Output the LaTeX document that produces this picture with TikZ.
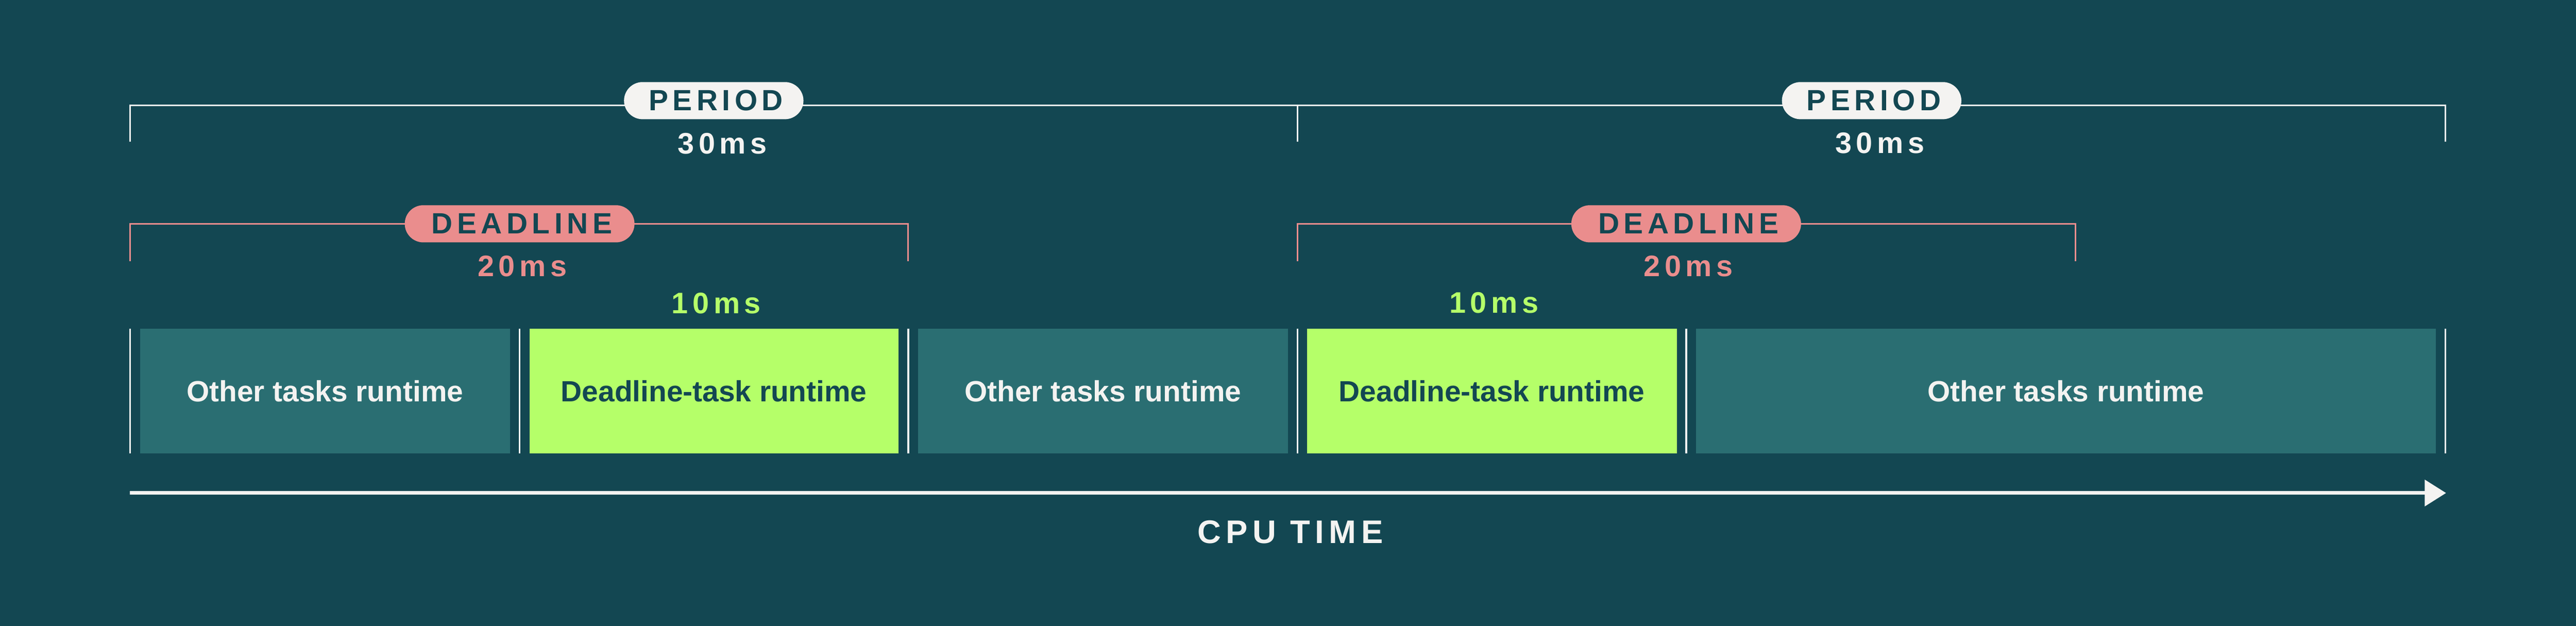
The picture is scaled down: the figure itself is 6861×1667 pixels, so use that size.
\documentclass[tikz,border=0pt]{standalone}
\usepackage{fontspec}
\setmainfont{Liberation Sans}
\newfontfamily\trackfont[LetterSpace=15]{Liberation Sans}
\usetikzlibrary{arrows.meta}
\definecolor{bg}{HTML}{134752}
\definecolor{tealbox}{HTML}{2A6E72}
\definecolor{limebox}{HTML}{B5FF69}
\definecolor{pinkc}{HTML}{EA8D8D}
\definecolor{offwhite}{HTML}{F4F3F1}
\newcommand{\trk}[1]{#1\kern-0.15em}
\begin{document}
\begin{tikzpicture}[x=0.1pt,y=-0.1pt,
  bracketline/.style={line width=0.4pt},
  markline/.style={draw=offwhite,line width=0.45pt},
  pill/.style={rectangle,rounded corners=4.95pt,minimum height=9.9pt,inner sep=0pt,
    text=bg,font=\trackfont\bfseries\fontsize{7.8pt}{9pt}\selectfont},
  numlabel/.style={anchor=base,inner sep=0pt,font=\trackfont\bfseries\fontsize{7.9pt}{9pt}\selectfont},
  taskbox/.style={rectangle,minimum height=33.3pt,inner sep=0pt,
    font=\bfseries\fontsize{7.8pt}{9pt}\selectfont},
  otherbox/.style={taskbox,fill=tealbox,text=offwhite},
  dlbox/.style={taskbox,fill=limebox,text=bg},
]
% background
\fill[bg] (0,0) rectangle (6861,1667);
\useasboundingbox (0,0) rectangle (6861,1667);

% bracket coordinates
\coordinate (pa) at (346,280);
\coordinate (pb) at (3456,280);
\coordinate (pc) at (6513,280);
\coordinate (da) at (346,596);
\coordinate (db) at (2419,596);
\coordinate (dc) at (3456,596);
\coordinate (dd) at (5528,596);

% period brackets
\draw[bracketline,offwhite] ([yshift=-9.8pt]pa) -- (pa) -- (pc) -- ([yshift=-9.8pt]pc);
\draw[bracketline,offwhite] (pb) -- ([yshift=-9.8pt]pb);
% deadline brackets
\draw[bracketline,pinkc] ([yshift=-9.9pt]da) -- (da) -- (db) -- ([yshift=-9.9pt]db);
\draw[bracketline,pinkc] ([yshift=-9.9pt]dc) -- (dc) -- (dd) -- ([yshift=-9.9pt]dd);

% pills
\node[pill,fill=offwhite,minimum width=47.8pt] (per1) at (1901,268) {\trk{PERIOD}};
\node[pill,fill=offwhite,minimum width=47.8pt] (per2) at (4985,268) {\trk{PERIOD}};
\node[pill,fill=pinkc,minimum width=61.2pt] (dl1) at (1384,596) {\trk{DEADLINE}};
\node[pill,fill=pinkc,minimum width=61.2pt] (dl2) at (4491,596) {\trk{DEADLINE}};

% numeric labels
\node[numlabel,text=offwhite] (n30a) at (1918,409) {\trk{30ms}};
\node[numlabel,text=offwhite] (n30b) at (5001,408) {\trk{30ms}};
\node[numlabel,text=pinkc] (n20a) at (1385,736) {\trk{20ms}};
\node[numlabel,text=pinkc] (n20b) at (4491,736) {\trk{20ms}};
\node[numlabel,text=limebox] (n10a) at (1902,835) {\trk{10ms}};
\node[numlabel,text=limebox] (n10b) at (3973,834) {\trk{10ms}};

% task boxes
\node[otherbox,minimum width=98.5pt] (b1) at (865.5,1041.5) {Other tasks runtime};
\node[dlbox,minimum width=98.3pt] (b2) at (1901.5,1041.5) {Deadline-task runtime};
\node[otherbox,minimum width=98.5pt] (b3) at (2937.5,1041.5) {Other tasks runtime};
\node[dlbox,minimum width=98.5pt] (b4) at (3973.5,1041.5) {Deadline-task runtime};
\node[otherbox,minimum width=197.1pt] (b5) at (5502.5,1041.5) {Other tasks runtime};

% markers
\foreach \mx/\nm in {346/m0,1384/m1,2419/m2,3456/m3,4491/m4,6513/m5}{
  \coordinate (\nm t) at (\mx,875);
  \coordinate (\nm b) at (\mx,1208);
  \draw[markline] (\nm t) -- (\nm b);
}

% axis
\coordinate (ax0) at (346,1313);
\coordinate (ax1) at (6515,1313);
\draw[offwhite,line width=0.95pt,-{Triangle[length=5.7pt,width=6.9pt]}] (ax0) -- (ax1);
\node[anchor=base,inner sep=0pt,text=offwhite,font=\trackfont\bfseries\fontsize{8.7pt}{10pt}\selectfont] (cpu) at (3430,1447) {\trk{CPU TIME}};
\end{tikzpicture}
\end{document}
